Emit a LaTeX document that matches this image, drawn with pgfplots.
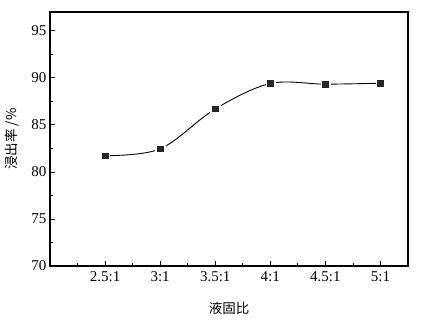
\documentclass[border=0pt]{standalone}
\usepackage{pgfplots}
\pgfplotsset{compat=1.18}
\usepackage{fontspec}
\setmainfont{Liberation Serif}
\newfontfamily\cjk{Noto Sans CJK SC}
\begin{document}
\begin{tikzpicture}
\begin{axis}[
    scale only axis,
    width=358pt, height=254pt,
    xmin=-1, xmax=5.5,
    ymin=70, ymax=97,
    xtick={0,1,2,3,4,5},
    xticklabels={2.5:1,3:1,3.5:1,4:1,4.5:1,5:1},
    minor xtick={-0.5,0.5,1.5,2.5,3.5,4.5},
    ytick={70,75,80,85,90,95},
    minor ytick={72.5,77.5,82.5,87.5,92.5},
    xtick pos=bottom, ytick pos=left,
    tick align=inside,
    major tick length=5pt, minor tick length=3pt,
    every tick/.style={black, line width=0.8pt},
    axis line style={line width=1.1pt},
    tick label style={font=\fontsize{15}{17}\selectfont},
    /pgf/number format/assume math mode=true,
    xticklabel style={yshift=-2pt},
    xlabel={\cjk\fontsize{13.5}{15}\selectfont 液固比},
    ylabel={\cjk\fontsize{13.5}{15}\selectfont 浸出率 /\%},
    xlabel style={at={(axis description cs:0.5,-0.165)}, anchor=center},
    ylabel style={at={(axis description cs:-0.106,0.5)}, anchor=center},
]
\addplot[black, line width=0.9pt, smooth, tension=0.55] coordinates {
    (0,81.73) (1,82.45) (2,86.7) (3,89.4) (4,89.33) (5,89.43)
};
\addplot[only marks, mark=square*, mark size=4.6pt, white] coordinates {
    (0,81.73) (1,82.45) (2,86.7) (3,89.4) (4,89.33) (5,89.43)
};
\addplot[only marks, mark=square*, mark size=2.8pt, black!85] coordinates {
    (0,81.73) (1,82.45) (2,86.7) (3,89.4) (4,89.33) (5,89.43)
};
\path (rel axis cs:0,0) ++(-50pt,-55pt) coordinate (bl);
\path (rel axis cs:1,1) ++(14pt,12pt) coordinate (tr);
\end{axis}
\path (bl) rectangle (tr);
\end{tikzpicture}
\end{document}
